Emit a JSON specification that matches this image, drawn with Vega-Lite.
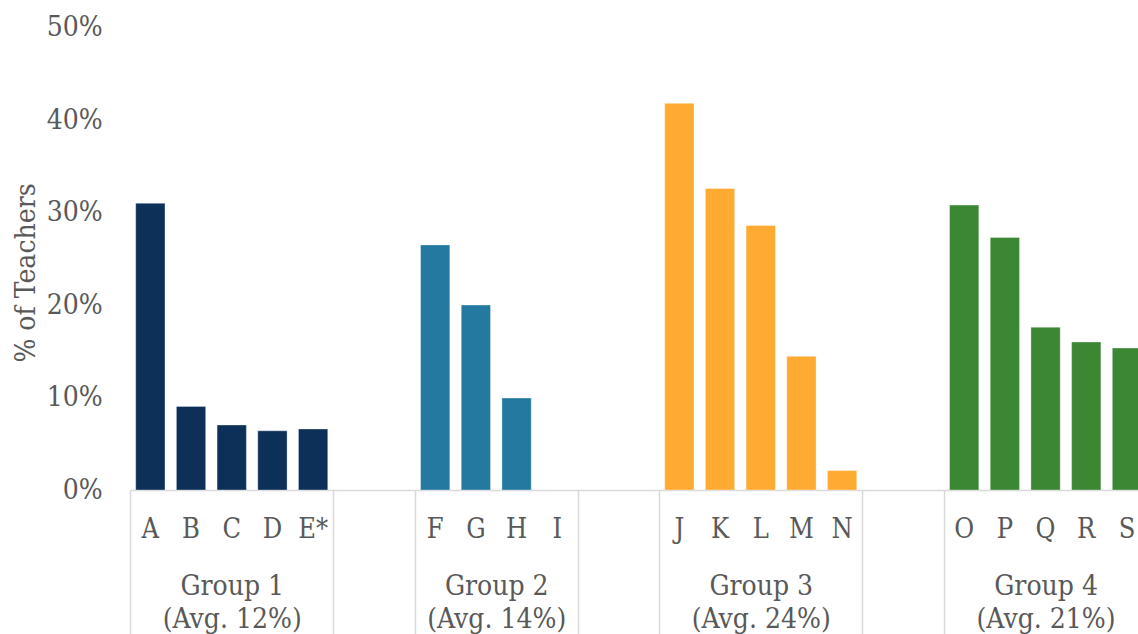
{
  "$schema": "https://vega.github.io/schema/vega-lite/v6.json",
  "width": 1008,
  "height": 462.5,
  "autosize": {"type": "none"},
  "padding": {"left": 130, "top": 27.5, "right": 0, "bottom": 144},
  "background": "white",
  "config": {
    "view": {"stroke": null},
    "font": "DejaVu Serif Condensed, DejaVu Serif",
    "axis": {"grid": false, "labelColor": "#595959", "titleColor": "#595959", "labelFont": "DejaVu Serif Condensed, DejaVu Serif", "titleFont": "DejaVu Serif Condensed, DejaVu Serif"},
    "axisY": {
      "domain": false,
      "ticks": false,
      "labelFontSize": 28,
      "labelPadding": 27.7,
      "titleFontSize": 28,
      "titleFontWeight": "normal",
      "titleAngle": -90,
      "titleAlign": "center",
      "titleBaseline": "alphabetic",
      "titleX": -95.3,
      "titleY": 245
    }
  },
  "data": {
    "values": [
      {"group": "Group 1", "item": "A", "pct": 0.310},
      {"group": "Group 1", "item": "B", "pct": 0.0904},
      {"group": "Group 1", "item": "C", "pct": 0.0703},
      {"group": "Group 1", "item": "D", "pct": 0.064},
      {"group": "Group 1", "item": "E*", "pct": 0.066},
      {"group": "Group 2", "item": "F", "pct": 0.265},
      {"group": "Group 2", "item": "G", "pct": 0.200},
      {"group": "Group 2", "item": "H", "pct": 0.0995},
      {"group": "Group 2", "item": "I", "pct": 0},
      {"group": "Group 3", "item": "J", "pct": 0.418},
      {"group": "Group 3", "item": "K", "pct": 0.326},
      {"group": "Group 3", "item": "L", "pct": 0.286},
      {"group": "Group 3", "item": "M", "pct": 0.1445},
      {"group": "Group 3", "item": "N", "pct": 0.021},
      {"group": "Group 4", "item": "O", "pct": 0.308},
      {"group": "Group 4", "item": "P", "pct": 0.273},
      {"group": "Group 4", "item": "Q", "pct": 0.176},
      {"group": "Group 4", "item": "R", "pct": 0.160},
      {"group": "Group 4", "item": "S", "pct": 0.1535}
    ]
  },
  "resolve": {"axis": {"x": "independent"}},
  "layer": [
    {
      "mark": {"type": "bar", "width": {"band": 0.72}},
      "encoding": {
        "x": {
          "field": "item",
          "type": "nominal",
          "scale": {
            "domain": ["A", "B", "C", "D", "E*", " ", "  ", "F", "G", "H", "I", "   ", "    ", "J", "K", "L", "M", "N", "     ", "      ", "O", "P", "Q", "R", "S"],
            "range": [0, 1017.3],
            "paddingInner": 0,
            "paddingOuter": 0
          },
          "axis": {
            "orient": "bottom",
            "title": null,
            "ticks": false,
            "domainColor": "#D9D9D9",
            "domainWidth": 1.5,
            "labelAngle": 0,
            "labelFontSize": 27,
            "labelPadding": 47,
            "labelBaseline": "alphabetic",
            "labelOverlap": false,
            "labelBound": false
          }
        },
        "y": {
          "field": "pct",
          "type": "quantitative",
          "scale": {"domain": [0, 0.5], "nice": false},
          "axis": {"title": "% of Teachers", "format": ".0%", "values": [0, 0.1, 0.2, 0.3, 0.4, 0.5]}
        },
        "color": {
          "field": "group",
          "type": "nominal",
          "scale": {
            "domain": ["Group 1", "Group 2", "Group 3", "Group 4"],
            "range": ["#0D3059", "#23799F", "#FFAA33", "#3B8734"]
          },
          "legend": null
        }
      }
    },
    {
      "mark": {"type": "bar", "width": {"band": 0.72}, "fillOpacity": 0, "stroke": "white", "strokeWidth": 1},
      "encoding": {
        "x": {
          "field": "item",
          "type": "nominal",
          "axis": {
            "orient": "bottom",
            "title": null,
            "domain": false,
            "tickBand": "extent",
            "tickSize": 144,
            "tickWidth": 1.5,
            "tickColor": {
              "condition": {"test": "datum.index < 0 || indexof(['E*', '  ', 'I', '    ', 'N', '      '], datum.value) >= 0", "value": "#D9D9D9"},
              "value": "rgba(0,0,0,0)"
            },
            "labelExpr": "datum.value === 'C' ? ['Group 1', '(Avg. 12%)'] : datum.value === 'H' ? ['Group 2', '(Avg. 14%)'] : datum.value === 'L' ? ['Group 3', '(Avg. 24%)'] : datum.value === 'Q' ? ['Group 4', '(Avg. 21%)'] : ''",
            "labelOffset": {"condition": {"test": "datum.value === 'H'", "value": -20.35}, "value": 0},
            "labelAngle": 0,
            "labelFontSize": 28,
            "labelPadding": -40,
            "labelBaseline": "alphabetic",
            "labelLineHeight": 33,
            "labelOverlap": false,
            "labelBound": false,
            "labelLimit": 0
          }
        },
        "y": {
          "field": "pct",
          "type": "quantitative",
          "axis": {"title": "% of Teachers", "format": ".0%", "values": [0, 0.1, 0.2, 0.3, 0.4, 0.5]}
        },
        "strokeOpacity": {
          "condition": {"test": "datum.pct === 0", "value": 0},
          "value": 0.35
        }
      }
    }
  ]
}
